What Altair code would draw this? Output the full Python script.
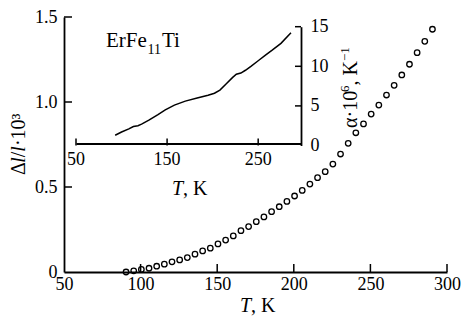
import altair as alt
import pandas as pd

# ---------------- data ----------------
T_main = [90.5, 95.5, 100.5, 105.5, 110.5, 115.5, 120.5, 125.5, 130.5, 135.5,
          140.5, 145.5, 150.5, 155.5, 160.5, 165.5, 170.5, 175.5, 180.5, 185.5,
          190.5, 195.5, 200.5, 205.5, 210.5, 215.5, 220.5, 225.5, 230.5, 235.5,
          240.5, 245.5, 250.5, 255.5, 260.5, 265.5, 270.5, 275.5, 280.5, 285.5, 290.5]
dl_main = [0.0, 0.007, 0.015, 0.022, 0.034, 0.046, 0.06, 0.071, 0.085, 0.105,
           0.124, 0.14, 0.165, 0.188, 0.212, 0.243, 0.267, 0.296, 0.324, 0.355,
           0.384, 0.415, 0.447, 0.48, 0.517, 0.555, 0.59, 0.635, 0.694, 0.757,
           0.819, 0.871, 0.929, 0.982, 1.041, 1.098, 1.159, 1.222, 1.29, 1.357, 1.428]

T_alpha = [93, 100, 108, 113, 118, 122, 130, 140, 148, 158, 170, 183, 195, 202,
           208, 215, 222, 226, 231, 236, 242, 250, 258, 265, 275, 286]
alpha = [1.3, 1.7, 2.1, 2.4, 2.5, 2.7, 3.2, 3.9, 4.5, 5.1, 5.6, 6.0, 6.35, 6.6,
         7.0, 7.8, 8.6, 9.0, 9.15, 9.5, 10.0, 10.7, 11.4, 12.0, 12.9, 14.25]

main_x_labels = [50, 100, 150, 200, 250, 300]
main_y_labels = [0, 0.5, 1.0, 1.5]
main_x_ticks = [100, 150, 200, 250, 300]
main_y_ticks = [0.5, 1.0, 1.5]
inset_x_labels = [50, 150, 250]
inset_x_label_text = ["50", "150", "250"]
inset_y_labels = [0, 5, 10, 15]
inset_x_ticks = [50, 150, 250]
inset_y_ticks = [5, 10, 15]

# ---------------- layout ----------------
W, H = 383, 255
FONT = "Liberation Serif"
IX0, IX1 = 12, 237       # inset x range (plot coords)
IY0, IY1 = 128.5, 9.7    # inset y range (plot coords)

main_xs = alt.Scale(domain=[50, 300], nice=False, zero=False)
main_ys = alt.Scale(domain=[0, 1.5], nice=False, zero=False)
ins_xs = alt.Scale(domain=[50, 297], range=[IX0, IX1], nice=False, zero=False)
ins_ys = alt.Scale(domain=[0, 15], range=[IY0, IY1], nice=False, zero=False)

common = dict(grid=False, ticks=False, title=None, domainColor="black",
              domainWidth=1.8, labelFont=FONT, labelFontSize=18,
              labelColor="black", labelFlush=False, labelOverlap=False)

main_xaxis = alt.Axis(values=main_x_labels, labelPadding=3, **common)
main_yaxis = alt.Axis(values=main_y_labels, labelPadding=7,
                      labelExpr="datum.value == 0 ? '0' : format(datum.value, '.1f')",
                      **common)
ins_xaxis = alt.Axis(values=inset_x_labels, labels=False, offset=IY0 - H, **common)
ins_yaxis = alt.Axis(values=inset_y_labels, labelPadding=9, orient="right",
                     offset=IX1 - W, labelAlign="left", **common)

df_main = pd.DataFrame({"T": T_main, "dl": dl_main})
df_alpha = pd.DataFrame({"T": T_alpha, "alpha": alpha})

points = alt.Chart(df_main).mark_point(
    shape="circle", filled=False, color="black", size=30, strokeWidth=1.3, opacity=1
).encode(
    x=alt.X("T:Q", scale=main_xs, axis=main_xaxis),
    y=alt.Y("dl:Q", scale=main_ys, axis=main_yaxis),
)

mxt = alt.Chart(pd.DataFrame({"T": main_x_ticks})).mark_rule(
    color="black", strokeWidth=1.5
).encode(
    x=alt.X("T:Q", scale=main_xs, axis=main_xaxis),
    y=alt.value(H), y2=alt.value(H - 8),
)
myt = alt.Chart(pd.DataFrame({"dl": main_y_ticks})).mark_rule(
    color="black", strokeWidth=1.5
).encode(
    y=alt.Y("dl:Q", scale=main_ys, axis=main_yaxis),
    x=alt.value(0), x2=alt.value(8),
)
main_group = alt.layer(points, mxt, myt)

line = alt.Chart(df_alpha).mark_line(color="black", strokeWidth=1.5).encode(
    x=alt.X("T:Q", scale=ins_xs, axis=ins_xaxis),
    y=alt.Y("alpha:Q", scale=ins_ys, axis=ins_yaxis),
)
ixt = alt.Chart(pd.DataFrame({"T": inset_x_ticks})).mark_rule(
    color="black", strokeWidth=1.5
).encode(
    x=alt.X("T:Q", scale=ins_xs, axis=ins_xaxis),
    y=alt.value(IY0), y2=alt.value(IY0 - 7),
)
iyt = alt.Chart(pd.DataFrame({"alpha": inset_y_ticks})).mark_rule(
    color="black", strokeWidth=1.5
).encode(
    y=alt.Y("alpha:Q", scale=ins_ys, axis=ins_yaxis),
    x=alt.value(IX1), x2=alt.value(IX1 - 6),
)
ixl = alt.Chart(pd.DataFrame({"T": inset_x_labels, "lab": inset_x_label_text})).mark_text(
    font=FONT, fontSize=18, color="black", align="center", baseline="top"
).encode(
    x=alt.X("T:Q", scale=ins_xs, axis=ins_xaxis),
    y=alt.value(IY0 + 5),
    text="lab:N",
)
inset_group = alt.layer(line, ixt, iyt, ixl)

one = pd.DataFrame({"a": [0]})


def txt(s, x, y, size=20, style="normal", angle=0, align="left"):
    kw = dict(text=s, font=FONT, fontSize=size, fontStyle=style, align=align,
              baseline="alphabetic", color="black")
    if angle:
        kw["angle"] = angle
    return alt.Chart(one).mark_text(**kw).encode(x=alt.value(x), y=alt.value(y))


texts = [
    # compound label
    txt("ErFe", 42, 30.3, size=21), txt("11", 83.5, 37, size=14),
    txt("Ti", 98, 30.3, size=21),
    # main x title
    txt("T", 176, 295, style="italic"), txt(", K", 187, 295),
    # inset x title
    txt("T", 108, 178, style="italic"), txt(", K", 119, 178),
    # main y title (rotated)
    txt("\u0394", -39, 158, angle=270),
    txt("l", -39, 145.8, style="italic", angle=270),
    txt("/", -39, 140.2, angle=270),
    txt("l", -39, 134.7, style="italic", angle=270),
    txt("\u00b710\u00b3", -39, 129.1, angle=270),
    # inset y title (rotated)
    txt("\u03b1\u00b710", 293, 111, angle=270),
    txt("6", 285, 75, size=13, angle=270),
    txt(", K", 293, 68.5, angle=270),
    txt("\u22121", 285, 44, size=13, angle=270),
]

chart = alt.layer(main_group, inset_group, *texts).resolve_scale(
    x="independent", y="independent"
).properties(
    width=W, height=H,
    autosize=alt.AutoSizeParams(type="none"),
    padding={"left": 64, "top": 17, "right": 18, "bottom": 48},
).configure_view(stroke=None)

chart.save("out.html", embed_options={"renderer": "svg", "actions": False})
